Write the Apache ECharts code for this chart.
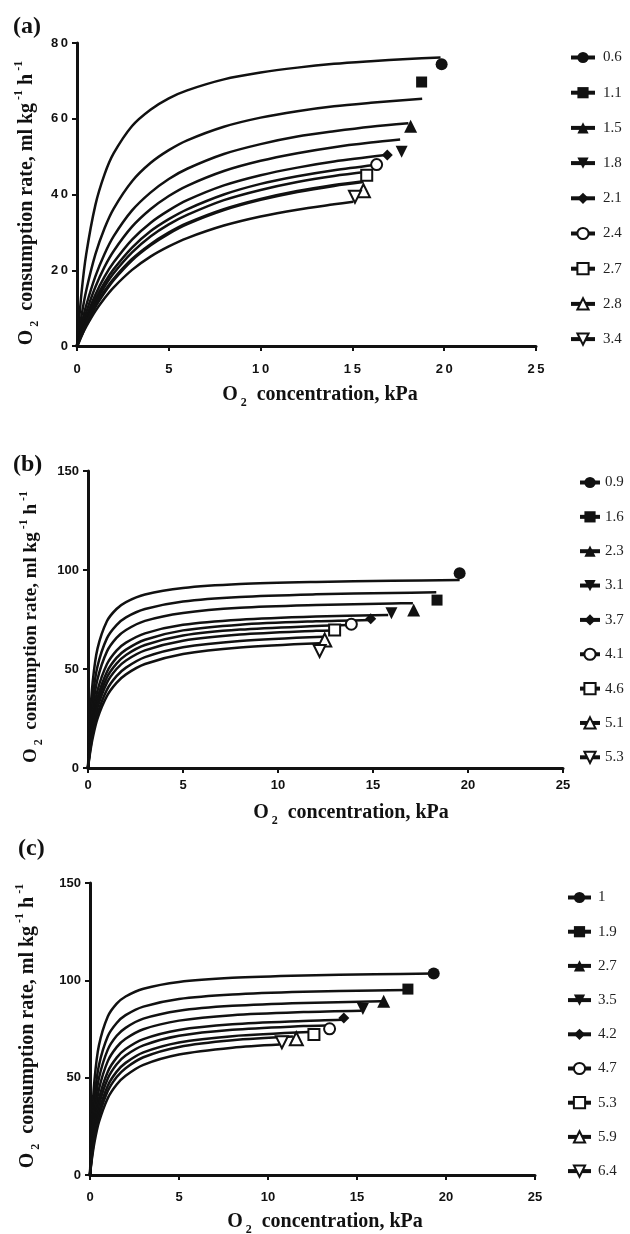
<!DOCTYPE html>
<html>
<head>
<meta charset="utf-8">
<script src="https://cdn.jsdelivr.net/npm/echarts@6/dist/echarts.min.js"></script>
<style>
  html, body { margin: 0; background: #fff; }
  #chart { width: 630px; height: 1234px; }
</style>
</head>
<body>
<div id="chart"></div>
<script>
// ---- panel (a) ----
const legendA = ['0.6', '1.1', '1.5', '1.8', '2.1', '2.4', '2.7', '2.8', '3.4'];
const curvesA = [
  [[0,0],[0.25,14.2],[0.5,24.2],[1,37.2],[1.5,45.3],[2,50.9],[3,58.1],[4,62.4],[5,65.4],[6,67.5],[8,70.4],[10,72.2],[12,73.5],[14,74.5],[16,75.2],[18,75.8],[19.8,76.2]],
  [[0,0],[0.25,8.1],[0.5,14.6],[1,24.2],[1.5,31.1],[2,36.3],[3,43.5],[4,48.3],[5,51.7],[6,54.3],[8,57.9],[10,60.3],[12,62.0],[14,63.3],[16,64.2],[18.8,65.3]],
  [[0,0],[0.25,5.8],[0.5,10.7],[1,18.4],[1.5,24.3],[2,29.0],[3,35.8],[4,40.5],[5,44.1],[6,46.8],[8,50.7],[10,53.3],[12,55.3],[14,56.7],[16,57.9],[18.05,58.8]],
  [[0,0],[0.25,4.8],[0.5,8.9],[1,15.6],[1.5,20.9],[2,25.1],[3,31.5],[4,36.1],[5,39.6],[6,42.3],[8,46.2],[10,48.9],[12,50.9],[14,52.5],[16,53.7],[17.6,54.5]],
  [[0,0],[0.25,4.1],[0.5,7.6],[1,13.5],[1.5,18.3],[2,22.1],[3,28.1],[4,32.5],[5,35.8],[6,38.5],[8,42.4],[10,45.1],[12,47.1],[14,48.7],[16.8,50.4]],
  [[0,0],[0.25,3.6],[0.5,6.9],[1,12.3],[1.5,16.7],[2,20.3],[3,26.0],[4,30.3],[5,33.5],[6,36.1],[8,40.0],[10,42.8],[12,44.8],[14,46.4],[16.2,47.8]],
  [[0,0],[0.25,3.4],[0.5,6.4],[1,11.5],[1.5,15.7],[2,19.2],[3,24.7],[4,28.9],[5,32.1],[6,34.6],[8,38.5],[10,41.2],[12,43.3],[14,44.9],[15.8,46.0]],
  [[0,0],[0.25,3.0],[0.5,5.8],[1,10.5],[1.5,14.3],[2,17.6],[3,22.8],[4,26.7],[5,29.8],[6,32.3],[8,36.0],[10,38.7],[12,40.8],[14,42.4],[15.6,43.4]],
  [[0,0],[0.25,2.7],[0.5,5.1],[1,9.2],[1.5,12.6],[2,15.5],[3,20.1],[4,23.6],[5,26.3],[6,28.5],[8,31.8],[10,34.2],[12,36.0],[14,37.4],[15.05,38.1]]
];
const pointsA = [[19.86,74.4],[18.77,69.7],[18.17,58.0],[17.68,51.3],[16.9,50.4],[16.32,47.9],[15.78,45.1],[15.6,41.0],[15.14,39.4]];
const yTicksA = [0, 20, 40, 60, 80];

// ---- panel (b) ----
const legendB = ['0.9', '1.6', '2.3', '3.1', '3.7', '4.1', '4.6', '5.1', '5.3'];
const curvesB = [
  [[0,0],[0.1,24.1],[0.25,43.8],[0.5,60.3],[1,74.2],[1.5,80.3],[2,83.8],[3,87.6],[5,90.9],[8,92.9],[12,94.0],[16,94.6],[19.56,94.9]],
  [[0,0],[0.1,18.9],[0.25,35.9],[0.5,51.4],[1,65.6],[1.5,72.2],[2,76.1],[3,80.3],[5,84.1],[8,86.4],[12,87.7],[16,88.4],[18.33,88.7]],
  [[0,0],[0.1,15.5],[0.25,30.5],[0.5,44.9],[1,58.9],[1.5,65.7],[2,69.7],[3,74.3],[5,78.3],[8,80.9],[12,82.3],[16,83.1],[17.1,83.2]],
  [[0,0],[0.1,12.9],[0.25,25.9],[0.5,39.1],[1,52.5],[1.5,59.3],[2,63.3],[3,68.0],[5,72.3],[8,74.9],[12,76.5],[15.8,77.3]],
  [[0,0],[0.1,11.1],[0.25,22.9],[0.5,35.4],[1,48.6],[1.5,55.6],[2,59.8],[3,64.8],[5,69.5],[8,72.4],[12,74.1],[14.9,74.8]],
  [[0,0],[0.1,10.1],[0.25,21.0],[0.5,32.9],[1,45.8],[1.5,52.7],[2,57.1],[3,62.1],[5,66.9],[8,69.9],[12,71.7],[13.8,72.2]],
  [[0,0],[0.1,9.2],[0.25,19.3],[0.5,30.5],[1,43.1],[1.5,50.0],[2,54.3],[3,59.4],[5,64.3],[8,67.4],[12,69.3],[12.9,69.5]],
  [[0,0],[0.1,8.0],[0.25,17.1],[0.5,27.5],[1,39.6],[1.5,46.4],[2,50.7],[3,56.0],[5,61.0],[8,64.2],[12.4,66.3]],
  [[0,0],[0.1,7.1],[0.25,15.3],[0.5,25.0],[1,36.4],[1.5,43.0],[2,47.3],[3,52.5],[5,57.6],[8,60.9],[12.2,63.0]]
];
const pointsB = [[19.56,98.3],[18.37,84.8],[17.14,79.8],[15.97,78.1],[14.88,75.4],[13.86,72.6],[12.98,69.7],[12.46,64.6],[12.19,59.1]];

// ---- panel (c) ----
const legendC = ['1', '1.9', '2.7', '3.5', '4.2', '4.7', '5.3', '5.9', '6.4'];
const curvesC = [
  [[0,0],[0.1,26.9],[0.25,48.6],[0.5,66.5],[1,81.4],[1.5,88.0],[2,91.7],[3,95.7],[5,99.2],[8,101.3],[12,102.5],[16,103.1],[19.3,103.5]],
  [[0,0],[0.1,21.1],[0.25,39.7],[0.5,56.3],[1,71.3],[1.5,78.1],[2,82.1],[3,86.5],[5,90.4],[8,92.7],[12,94.1],[16,94.8],[17.86,95.0]],
  [[0,0],[0.1,17.6],[0.25,34.1],[0.5,49.7],[1,64.4],[1.5,71.5],[2,75.6],[3,80.3],[5,84.4],[8,86.9],[12,88.4],[16.37,89.2]],
  [[0,0],[0.1,14.8],[0.25,29.4],[0.5,44.0],[1,58.5],[1.5,65.7],[2,70.0],[3,74.9],[5,79.3],[8,82.1],[12,83.7],[15.24,84.4]],
  [[0,0],[0.1,12.5],[0.25,25.6],[0.5,39.1],[1,53.1],[1.5,60.3],[2,64.7],[3,69.8],[5,74.5],[8,77.4],[12,79.1],[14.2,79.7]],
  [[0,0],[0.1,11.2],[0.25,23.1],[0.5,35.9],[1,49.6],[1.5,56.9],[2,61.4],[3,66.6],[5,71.5],[8,74.6],[12,76.5],[13.27,76.8]],
  [[0,0],[0.1,9.8],[0.25,20.6],[0.5,32.6],[1,45.9],[1.5,53.1],[2,57.6],[3,63.0],[5,68.1],[8,71.3],[12.33,73.4]],
  [[0,0],[0.1,8.8],[0.25,18.8],[0.5,30.1],[1,43.1],[1.5,50.3],[2,54.9],[3,60.5],[5,65.8],[8,69.2],[11.4,71.1]],
  [[0,0],[0.1,7.8],[0.25,16.7],[0.5,27.1],[1,39.5],[1.5,46.5],[2,51.0],[3,56.6],[5,61.9],[8,65.4],[10.65,67.0]]
];
const pointsC = [[19.31,103.5],[17.86,95.5],[16.5,89.2],[15.33,85.3],[14.26,80.7],[13.46,75.1],[12.58,72.2],[11.59,70.0],[10.78,68.2]];

// marker shapes, same order in every panel
const downTri = 'path://M0,0L10,0L5,10Z';
const symbols = ['circle', 'rect', 'triangle', downTri, 'diamond', 'circle', 'rect', 'triangle', downTri];
const symbolSizes = [12, 11, 13, 12, 11, 11, 11, 13, 12];

const INK = '#111';
const SANS = "'Liberation Sans', Arial, sans-serif";
const SERIF = "'Liberation Serif', 'Times New Roman', serif";

const spaced = s => String(s).split('').join('\u2009');

function axisStyle(wide) {
  return {
    axisLine: { show: true, onZero: false, lineStyle: { color: INK, width: 3 } },
    axisTick: { show: true, length: 5, lineStyle: { color: INK, width: 2 } },
    splitLine: { show: false },
    axisLabel: {
      color: INK, fontFamily: SANS, fontWeight: 'bold', fontSize: 13,
      formatter: wide ? (v => spaced(v)) : (v => String(v))
    }
  };
}

const grids = [
  { left: 77, top: 43, width: 459, height: 303 },
  { left: 88, top: 471, width: 475, height: 297 },
  { left: 90, top: 883, width: 445, height: 292 }
];

const xAxes = [0, 1, 2].map(i => {
  const a = axisStyle(i === 0);
  a.axisLabel.margin = [17, 11, 16][i];
  return Object.assign({ gridIndex: i, type: 'value', min: 0, max: 25, interval: 5 }, a);
});
const yAxes = [0, 1, 2].map(i => {
  const a = axisStyle(i === 0);
  a.axisLabel.margin = 9;
  return Object.assign({ gridIndex: i, type: 'value', min: 0,
    max: i === 0 ? yTicksA[yTicksA.length - 1] : 150, interval: i === 0 ? 20 : 50 }, a);
});

const series = [];
function addPanel(idx, key, names, curves, points) {
  curves.forEach((c, i) => {
    series.push({
      type: 'line', name: key + '-fit' + i, xAxisIndex: idx, yAxisIndex: idx,
      data: c, showSymbol: false, symbol: 'none', smooth: 0.3,
      lineStyle: { color: INK, width: (idx === 0 && i === 7) ? 3.5 : 2.5 },
      silent: true, z: 2
    });
  });
  points.forEach((p, i) => {
    const hollow = i >= 5;
    series.push({
      type: 'line', name: key + '|' + names[i], xAxisIndex: idx, yAxisIndex: idx,
      data: [p], showSymbol: true, symbol: symbols[i], symbolSize: symbolSizes[i],
      itemStyle: { color: hollow ? '#fff' : INK, borderColor: INK, borderWidth: hollow ? 2 : 0 },
      lineStyle: { color: INK, width: 3.5 },
      z: 4
    });
  });
}
addPanel(0, 'a', legendA, curvesA, pointsA);
addPanel(1, 'b', legendB, curvesB, pointsB);
addPanel(2, 'c', legendC, curvesC, pointsC);

function legendFor(key, names, left, top, itemWidth, gap, pad) {
  return {
    data: names.map(n => key + '|' + n), orient: 'vertical', left: left, top: top,
    itemWidth: itemWidth, itemHeight: 14, itemGap: gap, selectedMode: false,
    formatter: n => n.split('|')[1],
    lineStyle: { color: INK, width: 4 },
    textStyle: { fontFamily: SERIF, fontSize: 15, color: '#222', lineHeight: 14, padding: [0, 0, 0, pad] }
  };
}

const rich = size => ({
  t: { fontFamily: SERIF, fontWeight: 'bold', fontSize: size, lineHeight: size + 8, color: INK },
  s: { fontFamily: SERIF, fontWeight: 'bold', fontSize: Math.round(size * 0.62), lineHeight: 12, verticalAlign: 'bottom', color: INK },
  p: { fontFamily: SERIF, fontWeight: 'bold', fontSize: Math.round(size * 0.62), lineHeight: 12, verticalAlign: 'top', color: INK }
});
const yTitle = '{t|O}{s| 2}{t|  consumption rate, ml kg}{p| -1}{t| h}{p| -1}';
const xTitle = '{t|O}{s| 2}{t|  concentration, kPa}';

function label(text, x, y, size, rot) {
  return {
    type: 'text', x: x, y: y, rotation: rot || 0,
    style: { text: text, rich: rich(size), align: 'center', verticalAlign: 'middle', fill: INK }
  };
}
function panelTag(text, x, y) {
  return {
    type: 'text', x: x, y: y,
    style: { text: text, font: 'bold 24px ' + SERIF, fill: INK, align: 'left', verticalAlign: 'middle' }
  };
}

const chart = echarts.init(document.getElementById('chart'));
chart.setOption({
  animation: false,
  backgroundColor: '#fff',
  grid: grids,
  xAxis: xAxes,
  yAxis: yAxes,
  legend: [
    legendFor('a', legendA, 564, 45, 24, 20.2, 3),
    legendFor('b', legendB, 573, 470, 20, 19.35, 0),
    legendFor('c', legendC, 561, 885, 23, 19.2, 2)
  ],
  graphic: [
    panelTag('(a)', 13, 27),
    panelTag('(b)', 13, 465),
    panelTag('(c)', 18, 849),
    label(xTitle, 320, 395, 20),
    label(xTitle, 351, 813, 20),
    label(xTitle, 325, 1222, 20),
    label(yTitle, 27, 203, 20, Math.PI / 2),
    label(yTitle, 31, 627, 19, Math.PI / 2),
    label(yTitle, 28, 1026, 20, Math.PI / 2)
  ],
  series: series
});
</script>
</body>
</html>
